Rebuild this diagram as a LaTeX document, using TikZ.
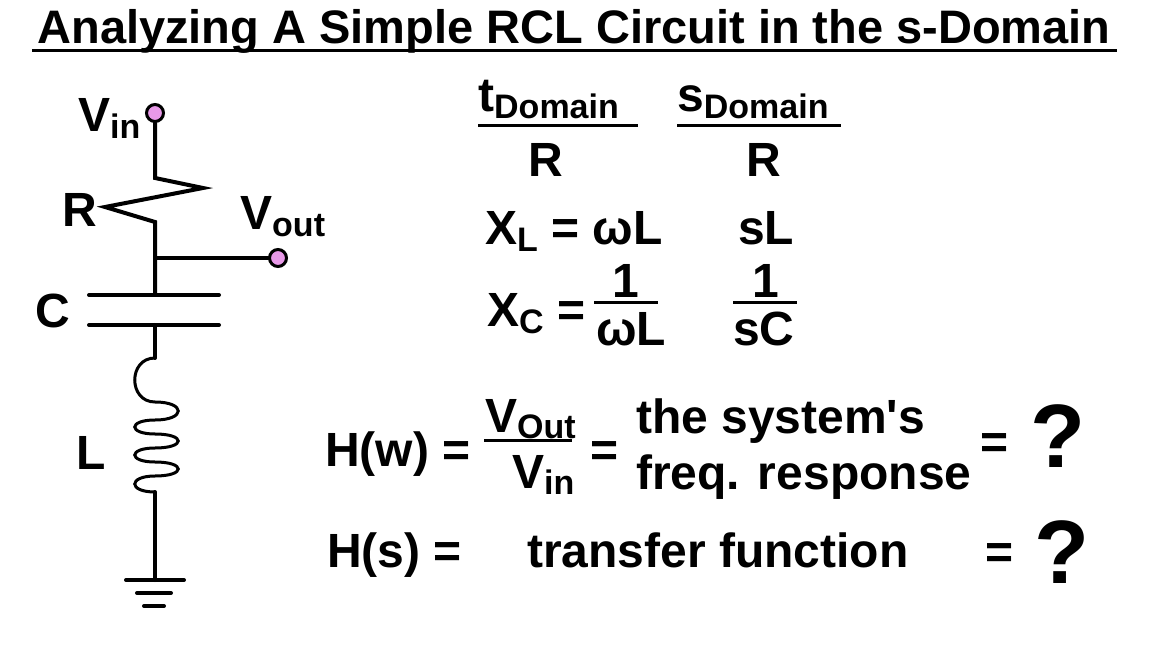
\documentclass[tikz,border=0pt]{standalone}
\usepackage{fontspec}
\setmainfont{Liberation Sans}
\newcommand\sbx[1]{\raisebox{-0.14em}{\fontsize{34}{34}\selectfont #1}}
\newcommand\bigf{\fontsize{48}{50}\selectfont\bfseries}
\begin{document}
\begin{tikzpicture}[x=1pt,y=-1pt,
  wire/.style={line width=4pt,line cap=round},
  term/.style={circle,draw,line width=3pt,fill=violet!45!magenta!40,minimum size=17pt,inner sep=0pt},
  txt/.style={font=\bigf,inner sep=0pt,anchor=base west},
  bar/.style={line width=3pt}]
\useasboundingbox (0,0) rectangle (1165,660);
\fill[white] (0,0) rectangle (1165,660);
% title
\node[txt,anchor=base,font=\fontsize{47}{48}\selectfont\bfseries] (title) at (574,44) {Analyzing A Simple RCL Circuit in the s-Domain};
\draw[bar] (32,51) -- (1117,51);
% circuit
\node[term] (vin) at (155,113) {};
\node[term] (vout) at (278,258) {};
\coordinate (r1) at (155,178);
\coordinate (r2) at (155,222);
\coordinate (j) at (155,258);
\coordinate (c1) at (155,295);
\coordinate (c2) at (155,325);
\coordinate (l1) at (155,358);
\coordinate (l2) at (155,492);
\coordinate (g) at (155,580);
\draw[wire] (vin) -- (r1) -- (203,188) -- (105,207) -- (r2) -- (j) -- (c1);
\draw[wire] (j) -- (vout);
\draw[wire] (89,295) -- (219,295);
\draw[wire] (89,325) -- (219,325);
\draw[wire] (c2) -- (l1);
\draw[line width=3pt] (l1) .. controls (128,358) and (128,402) .. (155,402)
 .. controls (186,402) and (186,420) .. (155,420)
 .. controls (128,420) and (128,434) .. (155,434)
 .. controls (186,434) and (186,448) .. (155,448)
 .. controls (128,448) and (128,462) .. (155,462)
 .. controls (186,462) and (186,476) .. (155,476)
 .. controls (128,476) and (128,492) .. (l2);
\draw[wire] (l2) -- (g);
\draw[wire] (126,580) -- (184,580);
\draw[wire] (137,593) -- (171,593);
\draw[wire] (144,606) -- (164,606);
\node[txt] (lvin) at (78,132) {V\sbx{in}};
\node[txt] (lr) at (62,227) {R};
\node[txt] (lvout) at (240,230) {V\sbx{out}};
\node[txt] (lc) at (35,328) {C};
\node[txt] (ll) at (76,469) {L};
% table
\node[txt] (td) at (478,112) {t\sbx{Domain}};
\draw[bar] (478,126) -- (638,126);
\node[txt] (sd) at (677,112) {s\sbx{Domain}};
\draw[bar] (677,126) -- (841,126);
\node[txt] (rt) at (528,177) {R};
\node[txt] (rs) at (746,177) {R};
\node[txt] (xl) at (485,245) {X\sbx{L} = ωL};
\node[txt] (sl) at (738,245) {sL};
\node[txt] (xc) at (487,327) {X\sbx{C} =};
\node[txt] (n1) at (612,298) {1};
\draw[bar] (594,303) -- (658,303);
\node[txt] (d1) at (596,345) {ωL};
\node[txt] (n2) at (752,298) {1};
\draw[bar] (733,303) -- (797,303);
\node[txt] (d2) at (733,345) {sC};
% H(w)
\node[txt] (hw) at (325,466) {H(w) =};
\node[txt] (nv) at (485,432) {V\sbx{Out}};
\draw[bar] (484,440) -- (572,440);
\node[txt] (dv) at (512,488) {V\sbx{in}};
\node[txt] (eq1) at (590,466) {=};
\node[txt] (sys1) at (636,433) {the system\textquotesingle s};
\node[txt] (sys2) at (636,489) {freq. response};
\node[txt] (eq2) at (980,458) {=};
\node[txt,font=\fontsize{90}{90}\selectfont\bfseries] (q1) at (1030,467) {?};
\node[txt] (hs) at (327,567) {H(s) =};
\node[txt] (tf) at (527,567) {transfer function};
\node[txt] (eq3) at (985,568) {=};
\node[txt,font=\fontsize{90}{90}\selectfont\bfseries] (q2) at (1034,583) {?};
\end{tikzpicture}
\end{document}
